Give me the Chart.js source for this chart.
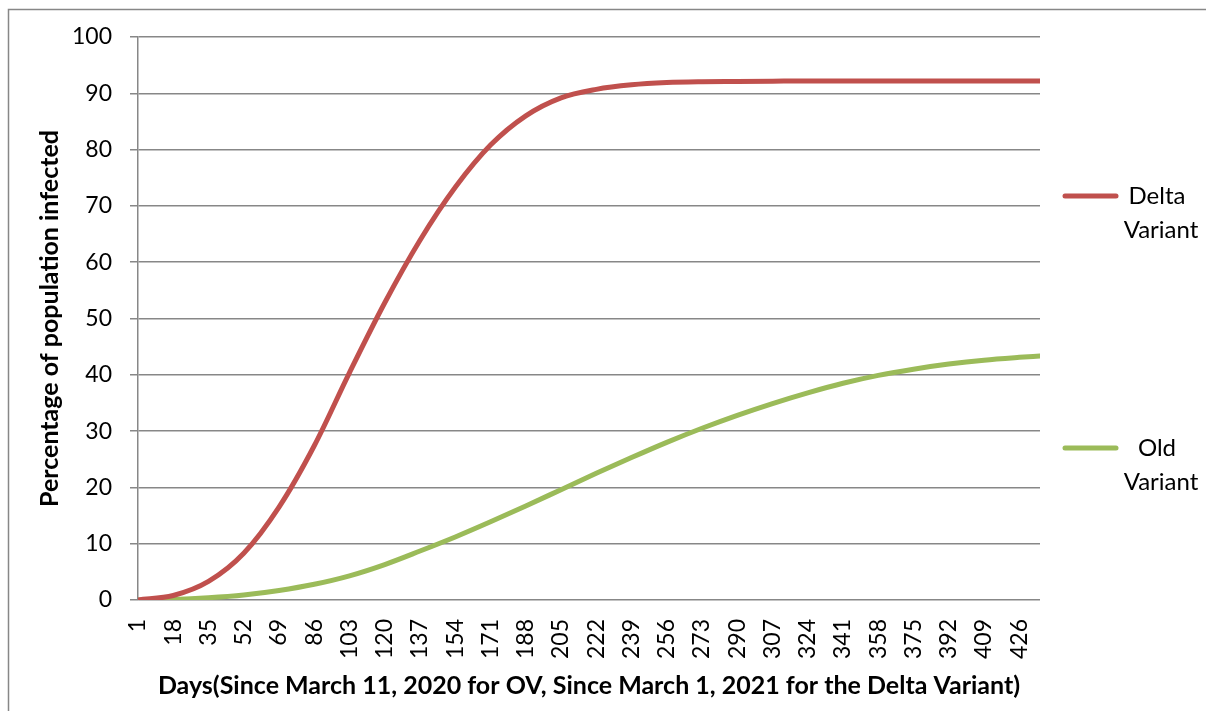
<!DOCTYPE html>
<html>
<head>
<meta charset="utf-8">
<script src="https://cdn.jsdelivr.net/npm/chart.js@4/dist/chart.umd.min.js"></script>
<style>
  html, body { margin: 0; padding: 0; background: #ffffff; }
  canvas { display: block; }
</style>
</head>
<body>
<canvas id="chart" width="1206" height="711"></canvas>
<script>
// Sampled days (every 17 days, matching the axis labels) and the curve values
const days = [1, 18, 35, 52, 69, 86, 103, 120, 137, 154, 171, 188, 205, 222, 239, 256, 273, 290, 307, 324, 341, 358, 375, 392, 409, 426, 436];
const deltaVariant = [0, 0.8, 3.3, 8.3, 16.5, 27.4, 40.4, 52.8, 63.9, 73.3, 80.8, 86.0, 89.2, 90.7, 91.5, 91.9, 92.05, 92.1, 92.15, 92.2, 92.2, 92.2, 92.2, 92.2, 92.2, 92.2, 92.2];
const oldVariant = [0, 0.1, 0.4, 0.9, 1.7, 2.8, 4.3, 6.3, 8.7, 11.2, 13.9, 16.7, 19.6, 22.5, 25.3, 28.0, 30.5, 32.8, 34.9, 36.8, 38.5, 39.9, 41.0, 41.9, 42.6, 43.1, 43.35];
const xTickDays = [1, 18, 35, 52, 69, 86, 103, 120, 137, 154, 171, 188, 205, 222, 239, 256, 273, 290, 307, 324, 341, 358, 375, 392, 409, 426];
const seriesNames = ['Delta Variant', 'Old Variant'];
const seriesColors = ['#C0504D', '#9BBB59'];

const GRID = '#878787';

const toPoints = (vals) => days.map((d, i) => ({ x: d, y: vals[i] }));

// Outer frame around the chart
const framePlugin = {
  id: 'frame',
  beforeDraw(chart) {
    const ctx = chart.ctx;
    ctx.save();
    ctx.fillStyle = '#ffffff';
    ctx.fillRect(0, 0, chart.width, chart.height);
    ctx.strokeStyle = GRID;
    ctx.lineWidth = 1.5;
    ctx.strokeRect(8.5, 9.5, chart.width + 20, chart.height + 20);
    ctx.restore();
  }
};

// Legend on the right: a line sample followed by the name wrapped over two lines
const sideLegend = {
  id: 'sideLegend',
  afterDraw(chart) {
    const ctx = chart.ctx;
    const rows = [196, 448];
    ctx.save();
    chart.data.datasets.forEach((ds, i) => {
      const y = rows[i];
      ctx.strokeStyle = ds.borderColor;
      ctx.lineWidth = 5;
      ctx.lineCap = 'round';
      ctx.beginPath();
      ctx.moveTo(1065, y);
      ctx.lineTo(1116, y);
      ctx.stroke();
      const words = ds.label.split(' ');
      ctx.fillStyle = '#000000';
      ctx.font = '24px Lato';
      ctx.textBaseline = 'middle';
      ctx.textAlign = 'center';
      ctx.fillText(words[0], 1157, y);
      ctx.fillText(words.slice(1).join(' '), 1161, y + 34);
    });
    ctx.restore();
  }
};

function build() {
  Chart.defaults.font.family = 'Lato';
  Chart.defaults.color = '#000000';

  new Chart(document.getElementById('chart'), {
    type: 'line',
    data: {
      datasets: [
        { label: seriesNames[0], data: toPoints(deltaVariant), borderColor: seriesColors[0], backgroundColor: seriesColors[0] },
        { label: seriesNames[1], data: toPoints(oldVariant), borderColor: seriesColors[1], backgroundColor: seriesColors[1] }
      ]
    },
    options: {
      responsive: false,
      animation: false,
      layout: { padding: { top: 37, right: 166, left: 0, bottom: 0 } },
      elements: {
        point: { radius: 0, hoverRadius: 0 },
        line: { borderWidth: 5, cubicInterpolationMode: 'monotone', borderCapStyle: 'round', borderJoinStyle: 'round' }
      },
      plugins: {
        legend: { display: false },
        tooltip: { enabled: false }
      },
      scales: {
        x: {
          type: 'linear',
          min: 1,
          max: 436,
          afterBuildTicks(scale) {
            scale.ticks = xTickDays.map(v => ({ value: v }));
          },
          afterFit(scale) { scale.height = 111; },
          grid: { display: false, drawTicks: false },
          border: { display: false },
          ticks: {
            autoSkip: false,
            minRotation: 90,
            maxRotation: 90,
            padding: 19,
            font: { size: 23 },
            color: '#000000'
          },
          title: {
            display: true,
            text: 'Days(Since March 11, 2020 for OV, Since March 1, 2021 for the Delta Variant)',
            font: { size: 25, weight: 'bold' },
            color: '#000000',
            padding: { top: 0, bottom: 10 }
          }
        },
        y: {
          min: 0,
          max: 100,
          afterFit(scale) { scale.width = 138; },
          ticks: { stepSize: 10, padding: 18, font: { size: 23 }, color: '#000000' },
          grid: { color: GRID, lineWidth: 1.5, tickLength: 8, drawTicks: true },
          border: { display: true, color: GRID, width: 1.5 },
          title: {
            display: true,
            text: 'Percentage of population infected',
            font: { size: 25, weight: 'bold' },
            color: '#000000',
            padding: { top: 35, bottom: 0 }
          }
        }
      }
    },
    plugins: [framePlugin, sideLegend]
  });
}

if (document.fonts && document.fonts.load) {
  Promise.all([
    document.fonts.load('23px Lato'),
    document.fonts.load('bold 25px Lato')
  ]).then(build, build);
} else {
  build();
}
</script>
</body>
</html>
